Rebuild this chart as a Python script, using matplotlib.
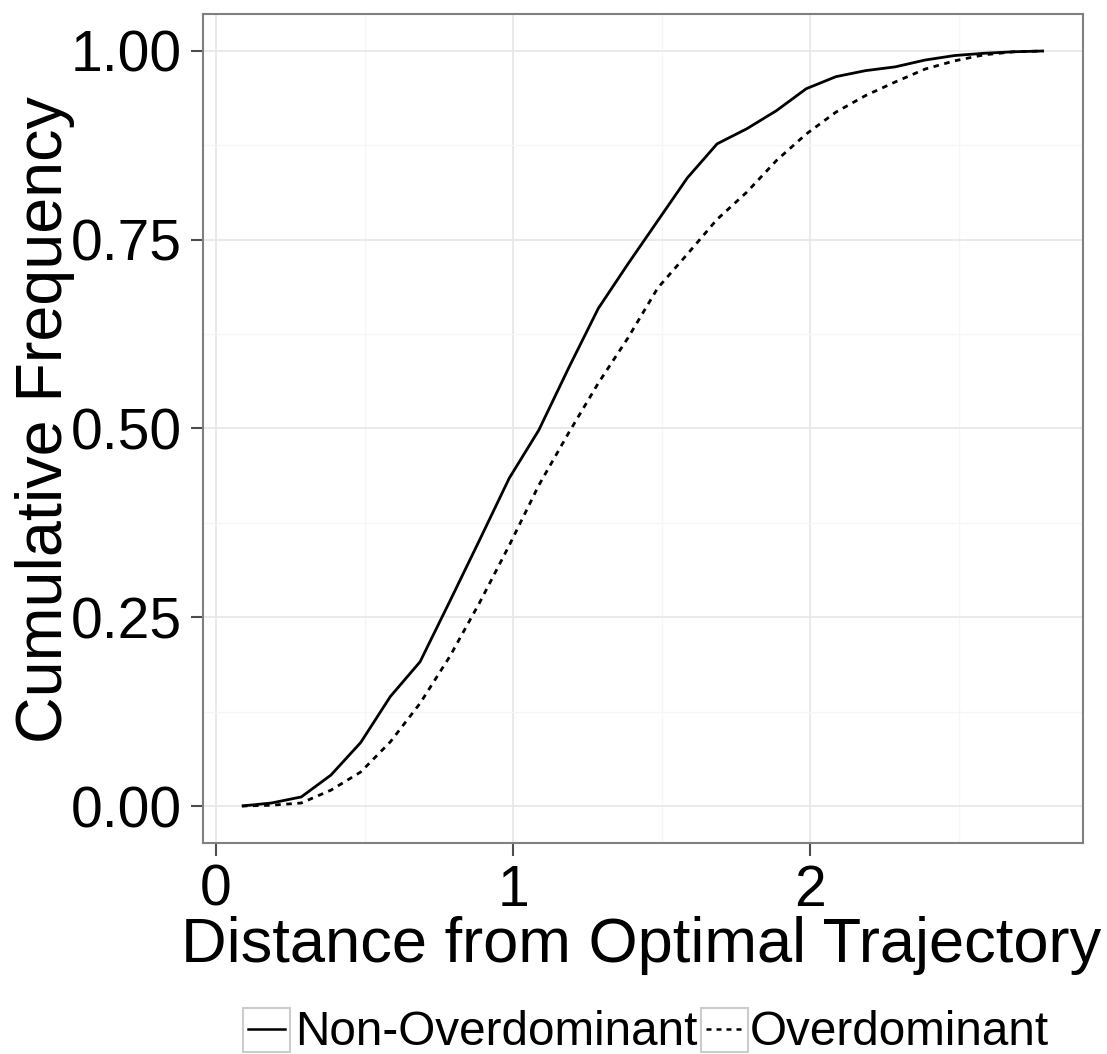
import matplotlib
matplotlib.use("Agg")
import matplotlib.pyplot as plt
from matplotlib.lines import Line2D
from matplotlib.patches import Rectangle

plt.rcParams['font.family'] = ['Liberation Sans', 'DejaVu Sans']

# ---- data ----
distance = [0.087, 0.187, 0.287, 0.387, 0.487, 0.587, 0.687, 0.787, 0.887, 0.987,
            1.087, 1.187, 1.287, 1.387, 1.487, 1.587, 1.687, 1.787, 1.887, 1.987,
            2.087, 2.187, 2.287, 2.387, 2.487, 2.587, 2.687, 2.787]
non_overdominant = [0.000, 0.004, 0.012, 0.041, 0.084, 0.145, 0.191, 0.271, 0.352, 0.434,
                    0.498, 0.580, 0.659, 0.718, 0.775, 0.832, 0.877, 0.897, 0.921, 0.950,
                    0.966, 0.974, 0.979, 0.988, 0.994, 0.997, 0.999, 1.000]
overdominant = [0.000, 0.001, 0.004, 0.021, 0.045, 0.085, 0.136, 0.198, 0.269, 0.345,
                0.425, 0.494, 0.560, 0.620, 0.686, 0.731, 0.777, 0.813, 0.855, 0.890,
                0.919, 0.941, 0.959, 0.976, 0.987, 0.995, 0.999, 1.000]
series_labels = ["Non-Overdominant", "Overdominant"]
x_ticks = [0, 1, 2]
y_ticks = [0.00, 0.25, 0.50, 0.75, 1.00]
y_tick_labels = ["0.00", "0.25", "0.50", "0.75", "1.00"]

W, H = 1107, 1054
fig = plt.figure(figsize=(W / 100, H / 100), dpi=100)

def fx(px):
    return px / W

def fy(py):
    return 1 - py / H

# axes box: left 203, right 1083, top 14, bottom 843
ax = fig.add_axes([fx(203), fy(843), fx(1083) - fx(203), fy(14) - fy(843)])
ax.set_xlim(-0.0438, 2.919)
ax.set_ylim(-0.049, 1.049)

dash_style = (0, (2, 2))
ax.plot(distance, non_overdominant, color='black', lw=2.0, solid_capstyle='butt', zorder=3)
ax.plot(distance, overdominant, color='black', lw=2.0, linestyle=dash_style, zorder=3)

ax.set_xticks(x_ticks)
ax.set_xticklabels([str(t) for t in x_ticks])
ax.set_yticks(y_ticks)
ax.set_yticklabels(y_tick_labels)
ax.set_xticks([0.5, 1.5, 2.5], minor=True)
ax.set_yticks([0.125, 0.375, 0.625, 0.875], minor=True)
ax.grid(which='major', color='#e8e8e8', lw=1.3, zorder=0)
ax.grid(which='minor', color='#f6f6f6', lw=1.0, zorder=0)
ax.set_axisbelow(True)

ax.tick_params(which='major', length=9, width=1.5, color='#4d4d4d',
               labelsize=41, pad=6, labelcolor='black')
ax.tick_params(which='minor', length=0)
for sp in ax.spines.values():
    sp.set_color('#808080')
    sp.set_linewidth(1.5)

# axis titles
fig.text(fx(641), fy(962), "Distance from Optimal Trajectory", fontsize=45.5,
         ha='center', va='baseline')
fig.text(fx(62), fy(420), "Cumulative Frequency", fontsize=46.5, rotation=90,
         rotation_mode='anchor', ha='center', va='baseline')

# legend (bottom)
key_top, key_bot = 1008, 1052
for (bx0, bx1, tx), style, lab in zip([(243, 290, 295), (701, 748, 750)],
                                      ['-', dash_style], series_labels):
    fig.add_artist(Rectangle((fx(bx0), fy(key_bot)), fx(bx1) - fx(bx0), fy(key_top) - fy(key_bot),
                             transform=fig.transFigure, facecolor='white',
                             edgecolor='#cccccc', lw=1.5))
    fig.add_artist(Line2D([fx(bx0 + 5), fx(bx1 - 5)], [fy(1029), fy(1029)],
                          transform=fig.transFigure, color='black', lw=1.8,
                          linestyle=style))
    fig.text(fx(tx), fy(1045), lab, fontsize=34.3, ha='left', va='baseline')

fig.savefig("out.png", dpi=100)
